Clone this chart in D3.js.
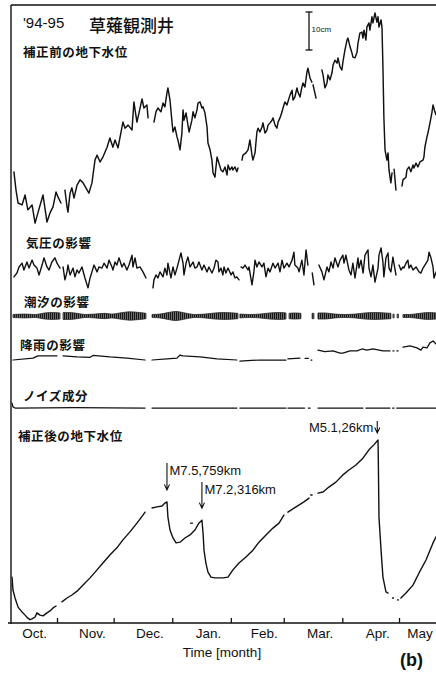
<!DOCTYPE html>
<html>
<head>
<meta charset="utf-8">
<script src="https://cdn.jsdelivr.net/npm/d3@7"></script>
<style>
  html, body { margin: 0; padding: 0; background: #fff; }
  svg { display: block; }
  .jp { font-family: "Noto Sans CJK JP", "Noto Sans", sans-serif; }
  .lat { font-family: "Liberation Sans", Arial, sans-serif; }
</style>
</head>
<body>
<svg id="chart" width="436" height="676"></svg>
<script>
// Kusanagi observation well, Oct 1994 - May 1995.
// Every series: [day since 1994-10-01, value in cm], split into recorded segments.

const monthLabels = ["Oct.", "Nov.", "Dec.", "Jan.", "Feb.", "Mar.", "Apr.", "May"];

// Groundwater level before correction
const rawLevel = [
  [[8.2,15.3],[9.3,10.5],[10.4,7.1],[12.5,6.6],[14.1,9.2],[15.6,5.3],[17.8,6.6],[19.4,1.8],[20.9,4.5],[23.6,9.2],[25.7,2.1],[27.3,4.5],[28.9,6.1],[30.5,10.0],[31.5,8.7],[33.1,7.1]],
  [[35.2,10.5],[36.3,6.1],[36.8,4.7],[37.9,9.7],[38.9,11.1],[40.0,8.4],[41.6,11.8],[43.2,13.2],[44.8,12.4],[46.3,11.1],[47.9,9.7],[49.5,12.4],[51.1,18.4],[52.2,19.7],[53.8,17.9],[55.3,19.2],[57.5,21.8],[59.0,24.2],[60.6,21.8],[61.7,23.7],[63.3,21.6],[64.9,25.8],[65.9,28.4],[67.0,26.8],[68.6,27.6],[70.7,26.3],[71.7,33.7],[73.3,28.4],[74.4,30.8],[76.0,34.5],[77.0,32.1],[78.6,32.9],[79.2,29.5]],
  [[82.3,28.4],[83.4,31.1],[84.4,32.1],[86.0,31.1],[87.1,33.4],[88.1,32.4],[89.2,36.1],[89.7,37.4],[90.8,34.2],[91.9,28.2],[92.4,25.8],[93.4,27.1],[94.5,24.5],[95.0,23.7],[96.1,21.1],[97.1,25.5],[97.7,31.6],[98.2,28.9],[99.3,30.8],[100.3,27.6],[100.9,25.8],[102.4,28.9],[103.0,31.1],[104.0,29.5],[105.1,31.6],[105.6,33.4],[106.7,33.7],[107.7,32.1],[108.3,32.4],[109.3,30.8],[110.4,27.1],[110.9,22.9],[112.0,21.1],[113.0,18.4],[113.6,15.0],[114.6,13.9],[115.7,19.2],[116.7,17.6],[117.8,15.8],[118.8,15.3],[119.9,16.6],[121.0,14.5],[121.5,17.1],[122.5,15.8],[123.6,16.6],[124.1,15.8],[125.2,16.6],[126.2,15.3],[126.8,16.3]],
  [[128.9,18.4],[129.4,19.7],[131.0,20.3],[132.1,21.1],[133.1,23.7],[134.2,19.7],[134.7,18.4],[135.8,20.3],[136.8,25.8],[137.4,26.8],[138.4,25.8],[139.5,27.1],[140.0,28.2],[141.1,25.5],[142.1,26.3],[142.7,27.6],[143.7,28.2],[144.8,28.9],[145.3,29.5],[146.4,27.6],[147.4,26.8],[148.0,28.4],[149.0,29.5],[150.1,31.1],[150.6,32.1],[151.6,33.7],[152.7,32.9],[154.3,35.5],[155.4,36.8],[155.9,34.2],[156.9,35.0],[158.0,37.4],[158.5,36.3],[159.6,35.0],[160.6,37.6],[161.2,38.7],[162.2,37.6],[163.3,41.6],[163.8,42.6],[164.9,40.0],[165.9,38.9]],
  [[166.5,38.2],[168.1,34.7]],
  [[171.2,42.1],[171.8,40.8],[172.8,37.4],[173.9,38.7],[174.4,40.8],[175.5,39.5],[176.5,41.3],[177.1,43.4],[178.1,44.7],[179.2,43.9],[179.7,45.3],[180.8,42.9],[181.8,42.1],[182.3,44.2],[183.4,47.4],[184.5,50.0],[185.0,50.5],[186.1,48.2],[187.1,46.6],[187.6,45.5],[188.7,45.3],[189.8,46.8],[190.3,49.2],[191.3,51.8],[192.4,52.1],[192.9,50.5],[193.5,52.6],[194.5,50.0],[195.0,53.4],[196.1,54.5],[196.6,52.6],[197.7,56.1],[198.2,54.5],[199.3,57.1],[200.3,54.7],[200.9,56.1],[201.4,53.4],[202.5,55.3],[203.0,53.2],[203.5,42.9],[204.0,29.7],[204.6,21.1],[205.6,18.4],[206.2,20.3],[206.7,15.8],[207.7,12.4],[208.3,15.0]],
  [[209.4,16.0],[210.4,10.5]],
  [[213.6,11.6],[214.1,13.2],[215.7,13.9],[216.2,15.8],[217.3,16.6],[218.3,15.3],[219.4,17.1],[219.9,16.3],[221.0,17.6],[222.0,16.6],[223.1,17.9],[224.7,18.4],[225.2,19.2],[225.7,21.8],[226.8,24.5],[227.3,25.5],[228.4,28.2],[229.4,30.8],[230.0,32.9],[231.0,31.1],[231.6,30.3]]
];

// Barometric pressure effect
const pressureEffect = [
  [[8.2,-1.8],[9.8,-0.8],[10.9,0.8],[12.5,1.8],[13.5,0],[15.1,2.1],[16.2,0.5],[17.8,2.6],[18.8,1.3],[20.4,0.5],[21.5,-1.3],[23.1,1.3],[24.1,3.2],[25.7,0.8],[26.8,0],[28.3,2.1],[29.9,3.2],[31.0,1.8],[32.6,0.5]],
  [[34.2,0.8],[35.2,-2.6],[36.3,-0.5],[36.8,1.3],[37.9,-1.3],[39.5,0.5],[40.5,-1.8],[41.6,0],[42.6,-0.8],[44.2,0.8],[45.8,-2.1],[47.4,-4.7],[48.5,-2.1],[49.5,-0.5],[50.6,1.3],[52.2,-0.5],[53.2,0.8],[54.8,0.5],[55.9,1.8],[57.5,0.5],[58.5,2.6],[60.1,0.8],[60.6,0],[61.7,2.1],[62.7,1.3],[63.8,3.2],[65.4,0.8],[66.5,1.8],[68.0,0],[69.1,1.3],[70.7,3.9],[71.2,0.8],[72.3,3.2],[73.3,0.5],[74.9,0.8],[76.5,-0.5],[78.1,-2.1]],
  [[81.8,-4.7],[82.3,-2.6],[83.4,-1.3],[84.4,-2.1],[85.5,-0.5],[87.1,-1.8],[88.1,0.5],[89.2,-1.3],[89.7,1.8],[91.3,-2.1],[92.4,0.8],[93.4,-1.3],[94.5,0.5],[95.6,2.6],[96.6,4.5],[97.7,1.8],[98.2,-1.3],[99.3,1.8],[100.3,3.4],[101.4,0.8],[103.0,2.1],[104.0,0.5],[105.1,0.8],[106.1,2.1],[107.7,0],[108.8,1.3],[110.4,-0.5],[111.4,0.8],[113.0,-0.8],[114.1,0.5],[115.1,2.6],[116.2,2.1],[116.7,-0.5],[117.8,0.5],[118.8,-1.3],[119.4,0.8],[120.4,-0.8],[121.5,0.5],[122.0,0],[123.1,-1.3],[124.1,-0.5],[125.2,-2.1],[126.2,-1.8],[127.3,-2.6]],
  [[128.4,0.8],[129.4,0.5],[130.5,1.3],[132.1,0],[132.6,0.8],[134.2,-3.9],[135.2,-0.5],[135.8,2.6],[136.8,0.8],[137.9,2.1],[139.5,0.8],[140.5,1.8],[141.6,-1.8],[142.7,0.5],[143.7,-0.5],[145.3,1.8],[146.4,0.5],[148.0,1.8],[149.0,-0.5],[150.1,2.6],[151.1,0.5],[152.7,1.8],[153.8,0.8],[155.4,2.6],[156.4,4.7],[156.9,1.3],[158.5,0.5],[159.1,-0.5],[160.6,2.6],[161.7,-1.3],[162.8,5.3],[163.8,1.3]],
  [[166.1,-0.8],[167.0,-3.9]],
  [[169.6,1.3],[171.2,-0.5],[172.3,-2.6],[173.9,0.8],[174.9,-0.5],[176.0,2.1],[177.1,0.5],[178.1,3.2],[179.7,0.8],[180.8,2.6],[182.3,3.9],[182.9,1.8],[183.9,3.9],[185.5,0],[186.6,-1.3],[187.6,1.8],[188.7,-2.1],[190.3,3.2],[190.8,0.5],[191.9,2.6],[193.0,-0.8],[194.0,3.9],[195.6,5.3],[196.1,0.5],[197.2,-1.8],[198.2,1.3],[199.3,-3.2],[200.9,0.5],[201.4,3.9],[202.5,5.8],[203.5,2.1],[204.0,-1.8],[205.1,3.2],[206.2,4.5],[206.7,0.5],[207.7,-0.5],[208.8,3.4],[209.3,1.8],[210.4,-1.3]],
  [[212.0,1.3],[213.0,0],[214.1,0.8],[214.6,0.5],[215.7,1.8],[216.7,2.6],[217.3,0.5],[218.3,1.3],[219.4,0],[221.0,0.8],[222.6,-0.5],[223.6,-0.8],[224.7,0.5],[225.7,1.3],[227.3,2.6],[227.9,4.7],[228.9,3.2],[230.0,0.8],[230.5,-2.1],[231.6,-0.5]]
];

// Tidal effect: half-range of the tidal oscillation
const tideAmplitude = [
  [[7.7,0.4],[14.1,0.5],[19.4,0.4],[24.6,0.8],[28.3,0.9],[32.6,0.8]],
  [[34.2,0.9],[37.9,0.9],[41.6,0.7],[45.8,0.4],[51.1,0.5],[56.4,0.7],[60.1,0.5],[64.3,0.8],[69.6,1.1],[74.9,0.9],[78.1,0.7]],
  [[81.3,0.4],[85.5,0.5],[89.7,0.9],[94.0,1.2],[98.7,0.8],[104.0,0.4],[109.3,0.5],[114.6,0.8],[119.9,0.9],[126.8,0.7]],
  [[127.8,0.5],[133.1,0.4],[138.4,0.5],[143.7,0.8],[149.0,0.9],[152.2,0.8]],
  [[153.8,0.7],[156.9,0.8],[160.1,0.7]],
  [[166.0,0.7],[167.0,0.7]],
  [[169.1,0.8],[172.8,0.8],[178.1,0.5],[183.4,0.4],[188.7,0.5],[194.0,0.8],[199.3,0.9],[204.6,0.8],[207.7,0.7]],
  [[208.8,0.5],[209.4,0.5]],
  [[211.0,0.5],[211.7,0.5]],
  [[214.1,0.4],[217.8,0.4],[223.1,0.7],[227.3,0.9],[231.6,0.8]]
];

// Rainfall effect
const rainEffect = [
  [[7.7,0],[18.3,0.5],[20.9,1.1],[23.1,1.1],[31.0,1.1]],
  [[34.2,1.1],[41.6,0.8],[48.5,0.7],[50.0,1.2],[59.0,0.8],[68.0,0.5],[77.6,0]],
  [[81.3,0],[89.2,0.3],[94.5,0.5],[96.1,1.3],[97.7,1.1],[106.7,0.8],[115.7,0.3],[126.2,0]],
  [[127.8,-0.3],[138.4,0],[145.3,0],[152.2,0]],
  [[153.2,0.3],[159.6,0.5]],
  [[162.3,0.4],[164.0,0.4]],
  [[165.4,0],[165.9,0]],
  [[169.1,2.6],[172.8,2.2],[177.1,2.4],[180.8,1.8],[182.3,1.8],[186.1,2.4],[189.8,2.4],[192.4,2.9],[195.0,2.6],[198.2,2.9],[203.5,2.4],[207.2,2.4]],
  [[208.8,2.4],[209.3,2.4]],
  [[210.9,2.4],[211.5,2.4]],
  [[214.1,3.4],[217.8,3.7],[221.5,3.2],[223.6,2.6],[224.7,3.4],[226.8,3.2],[228.4,4.5],[230.0,5.0],[231.6,4.2]]
];

// Noise component
const noiseComponent = [
  [[7.2,1.3],[7.7,0.3],[8.8,0],[40.0,0.1],[77.6,0]],
  [[81.3,0],[110.0,0],[126.2,0]],
  [[127.8,0],[152.2,0]],
  [[153.2,0],[162.0,0]],
  [[164.0,0],[165.0,0]],
  [[169.1,0],[192.9,0]],
  [[194.5,0],[207.2,0]],
  [[208.6,0],[209.4,0]],
  [[210.8,0],[231.6,0]]
];

// Groundwater level after correction
const correctedLevel = [
  [[7.2,12.6],[7.7,9.2],[8.8,7.1],[10.4,4.7],[12.5,3.4],[14.1,2.6],[15.6,1.8],[16.7,1.4],[17.8,1.6],[19.4,2.1],[20.4,3.2],[22.0,2.6],[23.6,2.4],[25.7,3.2],[27.3,3.7],[28.9,4.5],[30.5,5.0]],
  [[33.6,6.1],[36.3,7.1],[38.9,7.9],[41.6,8.9],[44.8,10.5],[48.5,12.4],[52.2,14.5],[55.3,16.3],[59.0,18.4],[62.7,20.3],[65.9,22.4],[69.6,24.5],[73.3,26.8],[76.5,28.9],[77.6,29.7]],
  [[81.3,30.8],[83.9,31.1],[86.6,31.3],[88.1,32.1],[89.2,32.4],[89.7,28.4],[90.8,25.0],[92.4,22.9],[94.0,21.6],[96.1,21.8],[98.7,22.9],[101.4,23.7],[104.0,25.0],[106.1,26.8],[107.7,27.6],[108.3,24.2],[108.8,19.7],[109.8,16.3],[110.9,13.9],[112.5,12.6],[114.6,12.4],[117.3,12.4],[118.8,12.4],[121.5,12.6],[124.1,14.5],[127.3,16.3],[131.0,17.9],[134.7,19.7],[137.9,21.8],[141.6,23.7],[145.3,25.5],[148.5,26.8],[151.1,28.9]],
  [[101.7,26.8],[102.7,26.8]],
  [[153.2,29.7],[157.5,31.1],[161.7,32.4],[164.4,33.4]],
  [[165.3,34.2],[166.0,34.2]],
  [[169.1,34.7],[171.8,35.0],[174.9,36.3],[178.6,37.6],[182.3,39.5],[185.5,40.8],[189.2,42.1],[192.9,43.9],[196.1,46.1],[198.7,47.4],[200.9,48.7],[201.1,41.6],[201.4,28.4],[202.5,19.7],[203.5,12.6],[205.1,8.7],[206.2,8.4]],
  [[208.6,7.1],[209.1,7.1]],
  [[211.2,6.6],[211.7,6.6]],
  [[213.0,7.1],[215.7,8.4],[219.4,10.5],[222.6,13.7],[226.3,17.1],[230.0,21.6],[231.6,23.2]]
];

// Earthquakes marked on the corrected record
const quakeLabels = ["M7.5,759km", "M7.2,316km", "M5.1,26km"];
const quakeDays = [89.2, 107.7, 200.5];

// ---------------------------------------------------------------------------
const W = 436, H = 676;
const frame = { left: 11, top: 5, bottom: 623 };
const pxPerCm = 3.8;               // 10 cm scale bar = 38 px
const ink = "#111";

const svg = d3.select("#chart");
const t0 = Date.UTC(1994, 9, 1);
const toDate = d => new Date(t0 + d * 864e5);

const x = d3.scaleUtc()
  .domain([new Date(Date.UTC(1994, 10, 1)), new Date(Date.UTC(1995, 4, 1))])
  .range([57, 399]);

// vertical scale for each strip: value 0 sits at the given baseline
const strip = base => d3.scaleLinear().domain([0, 10]).range([base, base - 10 * pxPerCm]);
const yRaw = strip(230), yPress = strip(270), yTide = strip(316),
      yRain = strip(360), yNoise = strip(408), yCorr = strip(625);

const defs = svg.append("defs");
defs.append("clipPath").attr("id", "plotClip")
  .append("rect").attr("x", frame.left + 0.5).attr("y", frame.top)
  .attr("width", W - frame.left).attr("height", frame.bottom - frame.top);
const hatch = defs.append("pattern").attr("id", "tideHatch")
  .attr("width", 2).attr("height", 4).attr("patternUnits", "userSpaceOnUse");
hatch.append("rect").attr("width", 2).attr("height", 4).attr("fill", "#6e6e6e");
hatch.append("rect").attr("width", 1).attr("height", 4).attr("fill", "#151515");

// frame
svg.append("line").attr("x1", frame.left).attr("x2", frame.left)
  .attr("y1", frame.top).attr("y2", frame.bottom + 1)
  .attr("stroke", ink).attr("stroke-width", 1.4);
svg.append("line").attr("x1", frame.left).attr("x2", W)
  .attr("y1", frame.top).attr("y2", frame.top)
  .attr("stroke", ink).attr("stroke-width", 1.6);
svg.append("line").attr("x1", frame.left - 3).attr("x2", W)
  .attr("y1", frame.bottom).attr("y2", frame.bottom)
  .attr("stroke", ink).attr("stroke-width", 1.5);

// month ticks pointing into the plot
const monthStarts = d3.utcMonth.range(new Date(Date.UTC(1994, 10, 1)), new Date(Date.UTC(1995, 4, 2)));
const axis = d3.axisBottom(x).tickValues(monthStarts).tickSize(-5).tickFormat("");
const axG = svg.append("g").attr("transform", `translate(0,${frame.bottom})`).call(axis);
axG.select(".domain").remove();
axG.selectAll(".tick line").attr("stroke", ink).attr("stroke-width", 1.3);

// month names, centred in each month
const allStarts = d3.utcMonth.range(new Date(Date.UTC(1994, 9, 1)), new Date(Date.UTC(1995, 5, 2)));
svg.append("g").selectAll("text").data(monthLabels).join("text")
  .attr("class", "lat")
  .attr("x", (m, i) => Math.min((x(allStarts[i]) + x(allStarts[i + 1])) / 2 + 7, 420))
  .attr("y", 638)
  .attr("text-anchor", "middle")
  .attr("font-size", 13.5)
  .attr("fill", ink)
  .text(m => m);

svg.append("text").attr("class", "lat").attr("x", 222).attr("y", 657)
  .attr("text-anchor", "middle").attr("font-size", 13.5).attr("fill", ink)
  .text("Time [month]");
svg.append("text").attr("class", "lat").attr("x", 400).attr("y", 666)
  .attr("font-size", 18).attr("font-weight", 700).attr("fill", ink)
  .text("(b)");

// header
svg.append("text").attr("class", "lat").attr("x", 23).attr("y", 28)
  .attr("font-size", 15).attr("fill", ink).text("'94-95");
svg.append("text").attr("class", "jp").attr("x", 89).attr("y", 32)
  .attr("font-size", 17).attr("font-weight", 500).attr("fill", ink).text("草薙観測井");

// strip titles
const stripTitles = [
  { text: "補正前の地下水位", x: 23, y: 57 },
  { text: "気圧の影響", x: 26, y: 248 },
  { text: "潮汐の影響", x: 24, y: 307 },
  { text: "降雨の影響", x: 20, y: 350 },
  { text: "ノイズ成分", x: 23, y: 401 },
  { text: "補正後の地下水位", x: 18, y: 441 }
];
svg.append("g").selectAll("text").data(stripTitles).join("text")
  .attr("class", "jp").attr("x", d => d.x).attr("y", d => d.y)
  .attr("font-size", 12.5).attr("font-weight", 700).attr("letter-spacing", 0.6)
  .attr("fill", ink).text(d => d.text);

// 10 cm scale bar
const barX = 309, barTop = 12, barLen = yRaw(0) - yRaw(10);
const bar = svg.append("g").attr("stroke", ink).attr("stroke-width", 1.3);
bar.append("line").attr("x1", barX).attr("x2", barX).attr("y1", barTop).attr("y2", barTop + barLen);
bar.append("line").attr("x1", barX - 3.5).attr("x2", barX + 3.5).attr("y1", barTop).attr("y2", barTop);
bar.append("line").attr("x1", barX - 3.5).attr("x2", barX + 3.5).attr("y1", barTop + barLen).attr("y2", barTop + barLen);
svg.append("text").attr("class", "lat").attr("x", barX + 2.5).attr("y", barTop + barLen / 2 + 1)
  .attr("font-size", 8).attr("fill", ink).text("10cm");

// records
const plotG = svg.append("g").attr("clip-path", "url(#plotClip)");
function drawSegments(segments, y, width) {
  const line = d3.line().x(d => x(toDate(d[0]))).y(d => y(d[1]));
  plotG.append("g").selectAll("path").data(segments).join("path")
    .attr("d", line).attr("fill", "none").attr("stroke", ink)
    .attr("stroke-width", width).attr("stroke-linejoin", "round").attr("stroke-linecap", "round");
}
drawSegments(rawLevel, yRaw, 1.45);
drawSegments(pressureEffect, yPress, 1.4);
drawSegments(rainEffect, yRain, 1.25);
drawSegments(noiseComponent, yNoise, 1.25);
drawSegments(correctedLevel, yCorr, 1.4);

const tideArea = d3.area().x(d => x(toDate(d[0])))
  .y0(d => yTide(-d[1])).y1(d => yTide(d[1])).curve(d3.curveMonotoneX);
plotG.append("g").selectAll("path").data(tideAmplitude).join("path")
  .attr("d", tideArea).attr("fill", "url(#tideHatch)")
  .attr("stroke", "#2a2a2a").attr("stroke-width", 0.8);

// earthquake arrows on the corrected record
function levelAt(day) {
  let best = null, dist = Infinity;
  correctedLevel.forEach(seg => seg.forEach(p => {
    const dd = Math.abs(p[0] - day);
    if (dd < dist) { dist = dd; best = p[1]; }
  }));
  return best;
}
const quakeLayout = [
  { gap: 12, len: 27, side: "right" },
  { gap: 12, len: 26, side: "right" },
  { gap: 7, len: 12, side: "left" }
];
const qG = svg.append("g");
quakeLabels.forEach((lab, i) => {
  const L = quakeLayout[i];
  const qx = x(toDate(quakeDays[i]));
  const tip = yCorr(levelAt(quakeDays[i])) - L.gap;
  const top = tip - L.len;
  qG.append("path")
    .attr("d", `M${qx},${top}V${tip}M${qx - 2.6},${tip - 5.5}L${qx},${tip}L${qx + 2.6},${tip - 5.5}`)
    .attr("fill", "none").attr("stroke", ink).attr("stroke-width", 1.1);
  qG.append("text").attr("class", "lat")
    .attr("x", L.side === "right" ? qx + 2.5 : qx - 4)
    .attr("y", L.side === "right" ? top + 12 : tip - 1)
    .attr("text-anchor", L.side === "right" ? "start" : "end")
    .attr("font-size", 13).attr("fill", ink).text(lab);
});
</script>
</body>
</html>
